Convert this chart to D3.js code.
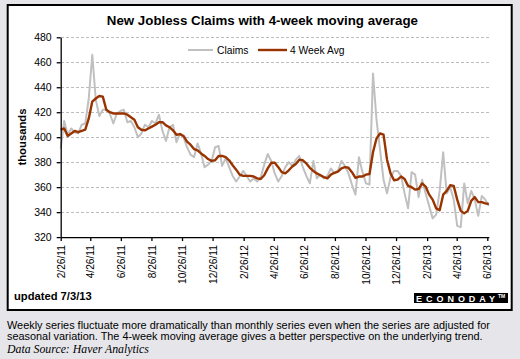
<!DOCTYPE html>
<html><head><meta charset="utf-8">
<script src="https://cdn.jsdelivr.net/npm/d3@7"></script>
<style>
html,body{margin:0;padding:0;background:#e6e6ea;}
svg{display:block;font-family:Arial,"Liberation Sans",sans-serif;}
</style></head><body>
<svg id="c" width="520" height="359"></svg>
<script>
// ---- data (weekly, thousands) ----
const firstWeek = "2011-02-26";
const claims = [
391,413,402,407,404,403,410,411,431,466,430,417,422,422,419,411,419,421,422,412,
413,408,400,403,410,408,413,411,418,405,397,408,410,396,403,400,392,386,384,395,
387,376,378,381,392,393,377,383,376,369,364.5,368.5,373,369,364.5,367,364.5,368,378,386.5,
381,371,364.5,369,376,380,377,382,385,376,369,363,381,367,370,367,369,375,371,373,
381,377,371,362,354,384,372,363,362,451,414,390,366,355,368,373,373,369,355,343,
372,370,352,366,355,345,335,338,357,388,355,360,350,329,328,363,347,357,350,337,
353,350,345];
const avg4 = [
406,407,401,403,405,404,405,406,415,428.5,431,433,432.5,422,420,419,419,419,419,418,
416,414,408,406,405.5,407,408.5,410,412,412,409.5,408,405.5,402,402.5,401,396.5,394,390.5,389.5,
387,385,382.5,381,381.5,385,385,384,381.5,377.5,374,370,369,369,369,368.5,367,366.5,369.5,375,
379.5,379.5,376,372,371,373.5,376.5,378.5,382,381.5,379,375.5,373,371,369.5,368,367,370,371.5,372.5,
375,376,375.5,372,367.5,368.5,368.5,370,370.5,388,399,403,402,382,371,365.5,366,368.5,366.5,361,
360,358,358.5,363,360.5,354,350,343,341.5,354,357,361.5,361,350,341,339,341,349,352,348,
348,347,346.5];
const yTicks = [320,340,360,380,400,420,440,460,480];
const gridValues = [340,360,380,400,420,440,460,480];
const xTickLabels = ["2/26/11","4/26/11","6/26/11","8/26/11","10/26/11","12/26/11","2/26/12",
  "4/26/12","6/26/12","8/26/12","10/26/12","12/26/12","2/26/13","4/26/13","6/26/13"];
const seriesNames = ["Claims","4 Week Avg"];

// ---- build ----
const svg = d3.select("#c");
const start = d3.timeParse("%Y-%m-%d")(firstWeek);
const weeks = claims.map((_, i) => d3.timeDay.offset(start, 7 * i));
const tickDates = xTickLabels.map(d3.timeParse("%m/%d/%y"));

const x = d3.scaleTime().domain([weeks[0], weeks[weeks.length - 1]]).range([60.7, 488.8]);
const y = d3.scaleLinear().domain([320, 480]).range([237.1, 37.3]);

// chart box
svg.append("rect").attr("x", 7.7).attr("y", 5).attr("width", 504).attr("height", 305)
  .attr("fill", "#fff").attr("stroke", "#000").attr("stroke-width", 2);

// title
svg.append("text").attr("x", 262.4).attr("y", 24.5).attr("text-anchor", "middle")
  .attr("font-size", "13.3px").attr("font-weight", "bold").attr("fill", "#000")
  .text("New Jobless Claims with 4-week moving average");

// grid
svg.append("g").selectAll("line").data(gridValues).join("line")
  .attr("x1", 61).attr("x2", 489)
  .attr("y1", d => Math.round(y(d)) + 0.5).attr("y2", d => Math.round(y(d)) + 0.5)
  .attr("stroke", "#bdbdbd").attr("stroke-width", 1).attr("stroke-dasharray", "3,2");

// lines
const line = d3.line().x((d, i) => x(weeks[i])).y(d => y(d));
svg.append("path").datum(claims).attr("d", line).attr("fill", "none")
  .attr("stroke", "#c0c0c0").attr("stroke-width", 2).attr("stroke-linejoin", "round");
svg.append("path").datum(avg4).attr("d", line).attr("fill", "none")
  .attr("stroke", "#993300").attr("stroke-width", 2.4).attr("stroke-linejoin", "round");

// y axis
const yAxis = svg.append("g").attr("transform", "translate(60.7,0)")
  .call(d3.axisLeft(y).tickValues(yTicks).tickSize(4).tickSizeOuter(0).tickPadding(5));
yAxis.selectAll("text").attr("font-size", "10.5px").attr("fill", "#000").attr("font-family", null);
yAxis.selectAll("line,path").attr("stroke", "#000").attr("stroke-width", 1.3);

// x axis
const xAxis = svg.append("g").attr("transform", "translate(0,237.1)")
  .call(d3.axisBottom(x).tickValues(tickDates).tickSize(4).tickSizeOuter(0)
    .tickFormat((d, i) => xTickLabels[i]));
xAxis.selectAll("line,path").attr("stroke", "#000").attr("stroke-width", 1.3);
xAxis.selectAll("text").attr("font-size", "10.2px").attr("fill", "#000").attr("font-family", null)
  .attr("transform", "rotate(-90)").attr("text-anchor", "end")
  .attr("x", -8).attr("y", 0).attr("dy", "0.35em");

// y title
svg.append("text").attr("transform", "translate(26,137) rotate(-90)")
  .attr("text-anchor", "middle").attr("font-size", "11.3px").attr("font-weight", "bold")
  .text("thousands");

// legend
const leg = svg.append("g");
leg.append("line").attr("x1", 188).attr("x2", 213).attr("y1", 50).attr("y2", 50)
  .attr("stroke", "#c0c0c0").attr("stroke-width", 2);
leg.append("text").attr("x", 217).attr("y", 53.5).attr("font-size", "10.3px").text(seriesNames[0]);
leg.append("line").attr("x1", 258).attr("x2", 287).attr("y1", 50).attr("y2", 50)
  .attr("stroke", "#993300").attr("stroke-width", 2.4);
leg.append("text").attr("x", 290).attr("y", 53.5).attr("font-size", "10.3px").text(seriesNames[1]);

// updated
svg.append("text").attr("x", 14).attr("y", 300).attr("font-size", "11.2px").attr("font-weight", "bold")
  .text("updated 7/3/13");

// logo
svg.append("rect").attr("x", 414).attr("y", 293).attr("width", 94).attr("height", 10).attr("fill", "#000");
svg.append("text").attr("x", 416).attr("y", 301.6).attr("font-size", "9px").attr("font-weight", "bold")
  .attr("fill", "#fff").attr("textLength", 79).attr("lengthAdjust", "spacing").text("ECONODAY");
svg.append("text").attr("x", 498).attr("y", 298).attr("font-size", "5px").attr("font-weight", "bold")
  .attr("fill", "#fff").text("TM");

// caption
const cap = svg.append("g").attr("font-size", "10.9px").attr("fill", "#000");
cap.append("text").attr("x", 7).attr("y", 328.5)
  .text("Weekly series fluctuate more dramatically than monthly series even when the series are adjusted for");
cap.append("text").attr("x", 7).attr("y", 339.5)
  .text("seasonal variation. The 4-week moving average gives a better perspective on the underlying trend.");
svg.append("text").attr("x", 7).attr("y", 352.5).attr("font-family", "'Liberation Serif','Times New Roman',serif")
  .attr("font-style", "italic").attr("font-size", "11.8px").text("Data Source: Haver Analytics");
</script>
</body></html>
